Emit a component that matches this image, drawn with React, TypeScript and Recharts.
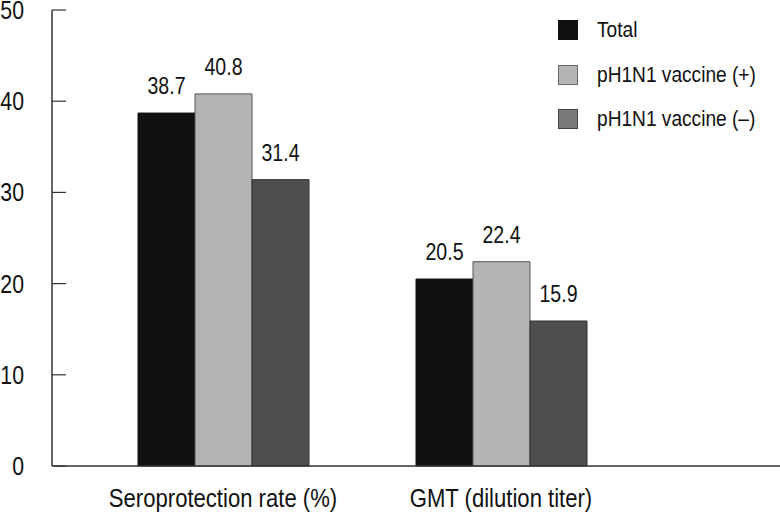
import { BarChart, Bar, XAxis, YAxis, Legend, LabelList } from "recharts";

const CATEGORIES = ["Seroprotection rate (%)", "GMT (dilution titer)"];
const TOTAL = [38.7, 20.5];
const VACCINE_POS = [40.8, 22.4];
const VACCINE_NEG = [31.4, 15.9];
const SERIES_NAMES = ["Total", "pH1N1 vaccine (+)", "pH1N1 vaccine (–)"];
const Y_TICKS = [0, 10, 20, 30, 40, 50];

// no condensed font is installed, so texts get squeezed horizontally
const FONT = "'Liberation Sans', Arial, sans-serif";
const SQUEEZE = 0.85;

// bar fills, and the slightly different legend swatches seen in the figure
const BAR_FILLS = ["#111111", "#b4b4b4", "#4e4e4e"];
const BAR_STROKES = ["#111111", "#555555", "#333333"];
const SWATCH_FILLS = ["#111111", "#b4b4b4", "#7a7a7a"];
const SWATCH_STROKES = ["#111111", "#666666", "#444444"];

const data = CATEGORIES.map((name, i) => ({
  name,
  total: TOTAL[i],
  pos: VACCINE_POS[i],
  neg: VACCINE_NEG[i],
}));

const YTick = ({ x, y, payload }: any) => (
  <g>
    <line x1={x} x2={x + 14} y1={y} y2={y} stroke="#333" strokeWidth={1.2} />
    <text
      transform={`translate(${x - 28},${y}) scale(${SQUEEZE},1)`}
      dy="0.36em"
      textAnchor="end"
      fontSize={25}
      fill="#111"
      fontFamily={FONT}
    >
      {payload.value}
    </text>
  </g>
);

const XTick = ({ x, y, payload }: any) => (
  <text
    transform={`translate(${x},${y}) scale(${SQUEEZE},1)`}
    dy="0.71em"
    textAnchor="middle"
    fontSize={26}
    fill="#111"
    fontFamily={FONT}
  >
    {payload.value}
  </text>
);

const ValueLabel = ({ x, y, width, value }: any) => (
  <text
    transform={`translate(${x + width / 2},${y - 19}) scale(${SQUEEZE},1)`}
    textAnchor="middle"
    fontSize={23}
    fill="#111"
    fontFamily={FONT}
  >
    {value}
  </text>
);

const renderLegend = () => (
  <div style={{ fontFamily: FONT, fontSize: 22.5, color: "#111" }}>
    {SERIES_NAMES.map((name, i) => (
      <div key={name} style={{ display: "flex", alignItems: "center", height: 44.5 }}>
        <div
          style={{
            width: 18,
            height: 18,
            background: SWATCH_FILLS[i],
            border: `1px solid ${SWATCH_STROKES[i]}`,
            marginRight: 19,
            flexShrink: 0,
          }}
        />
        <span
          style={{
            display: "inline-block",
            whiteSpace: "nowrap",
            transform: `scaleX(${SQUEEZE})`,
            transformOrigin: "left center",
          }}
        >
          {name}
        </span>
      </div>
    ))}
  </div>
);

export default function App() {
  return (
    <div style={{ position: "absolute", left: 0, top: 0, width: 780, height: 517, background: "#fff" }}>
      <BarChart
        width={780}
        height={517}
        data={data}
        margin={{ top: 10, right: 0, left: 0, bottom: 0 }}
        barSize={57}
        barGap={0}
      >
        <XAxis
          dataKey="name"
          height={51}
          padding={{ left: 32, right: 140 }}
          tickLine={false}
          tickSize={0}
          tickMargin={23}
          axisLine={{ stroke: "#333", strokeWidth: 1.5 }}
          tick={<XTick />}
        />
        <YAxis
          width={52}
          domain={[0, 50]}
          ticks={Y_TICKS}
          tickLine={false}
          tickSize={0}
          tickMargin={0}
          axisLine={{ stroke: "#333", strokeWidth: 1.5 }}
          tick={<YTick />}
        />
        <Legend
          layout="vertical"
          align="center"
          verticalAlign="middle"
          content={renderLegend}
          wrapperStyle={{ top: 8, left: 558, width: 220 }}
        />
        <Bar dataKey="total" name={SERIES_NAMES[0]} fill={BAR_FILLS[0]} stroke={BAR_STROKES[0]} strokeWidth={1} isAnimationActive={false}>
          <LabelList dataKey="total" content={<ValueLabel />} />
        </Bar>
        <Bar dataKey="pos" name={SERIES_NAMES[1]} fill={BAR_FILLS[1]} stroke={BAR_STROKES[1]} strokeWidth={1} isAnimationActive={false}>
          <LabelList dataKey="pos" content={<ValueLabel />} />
        </Bar>
        <Bar dataKey="neg" name={SERIES_NAMES[2]} fill={BAR_FILLS[2]} stroke={BAR_STROKES[2]} strokeWidth={1} isAnimationActive={false}>
          <LabelList dataKey="neg" content={<ValueLabel />} />
        </Bar>
      </BarChart>
    </div>
  );
}
